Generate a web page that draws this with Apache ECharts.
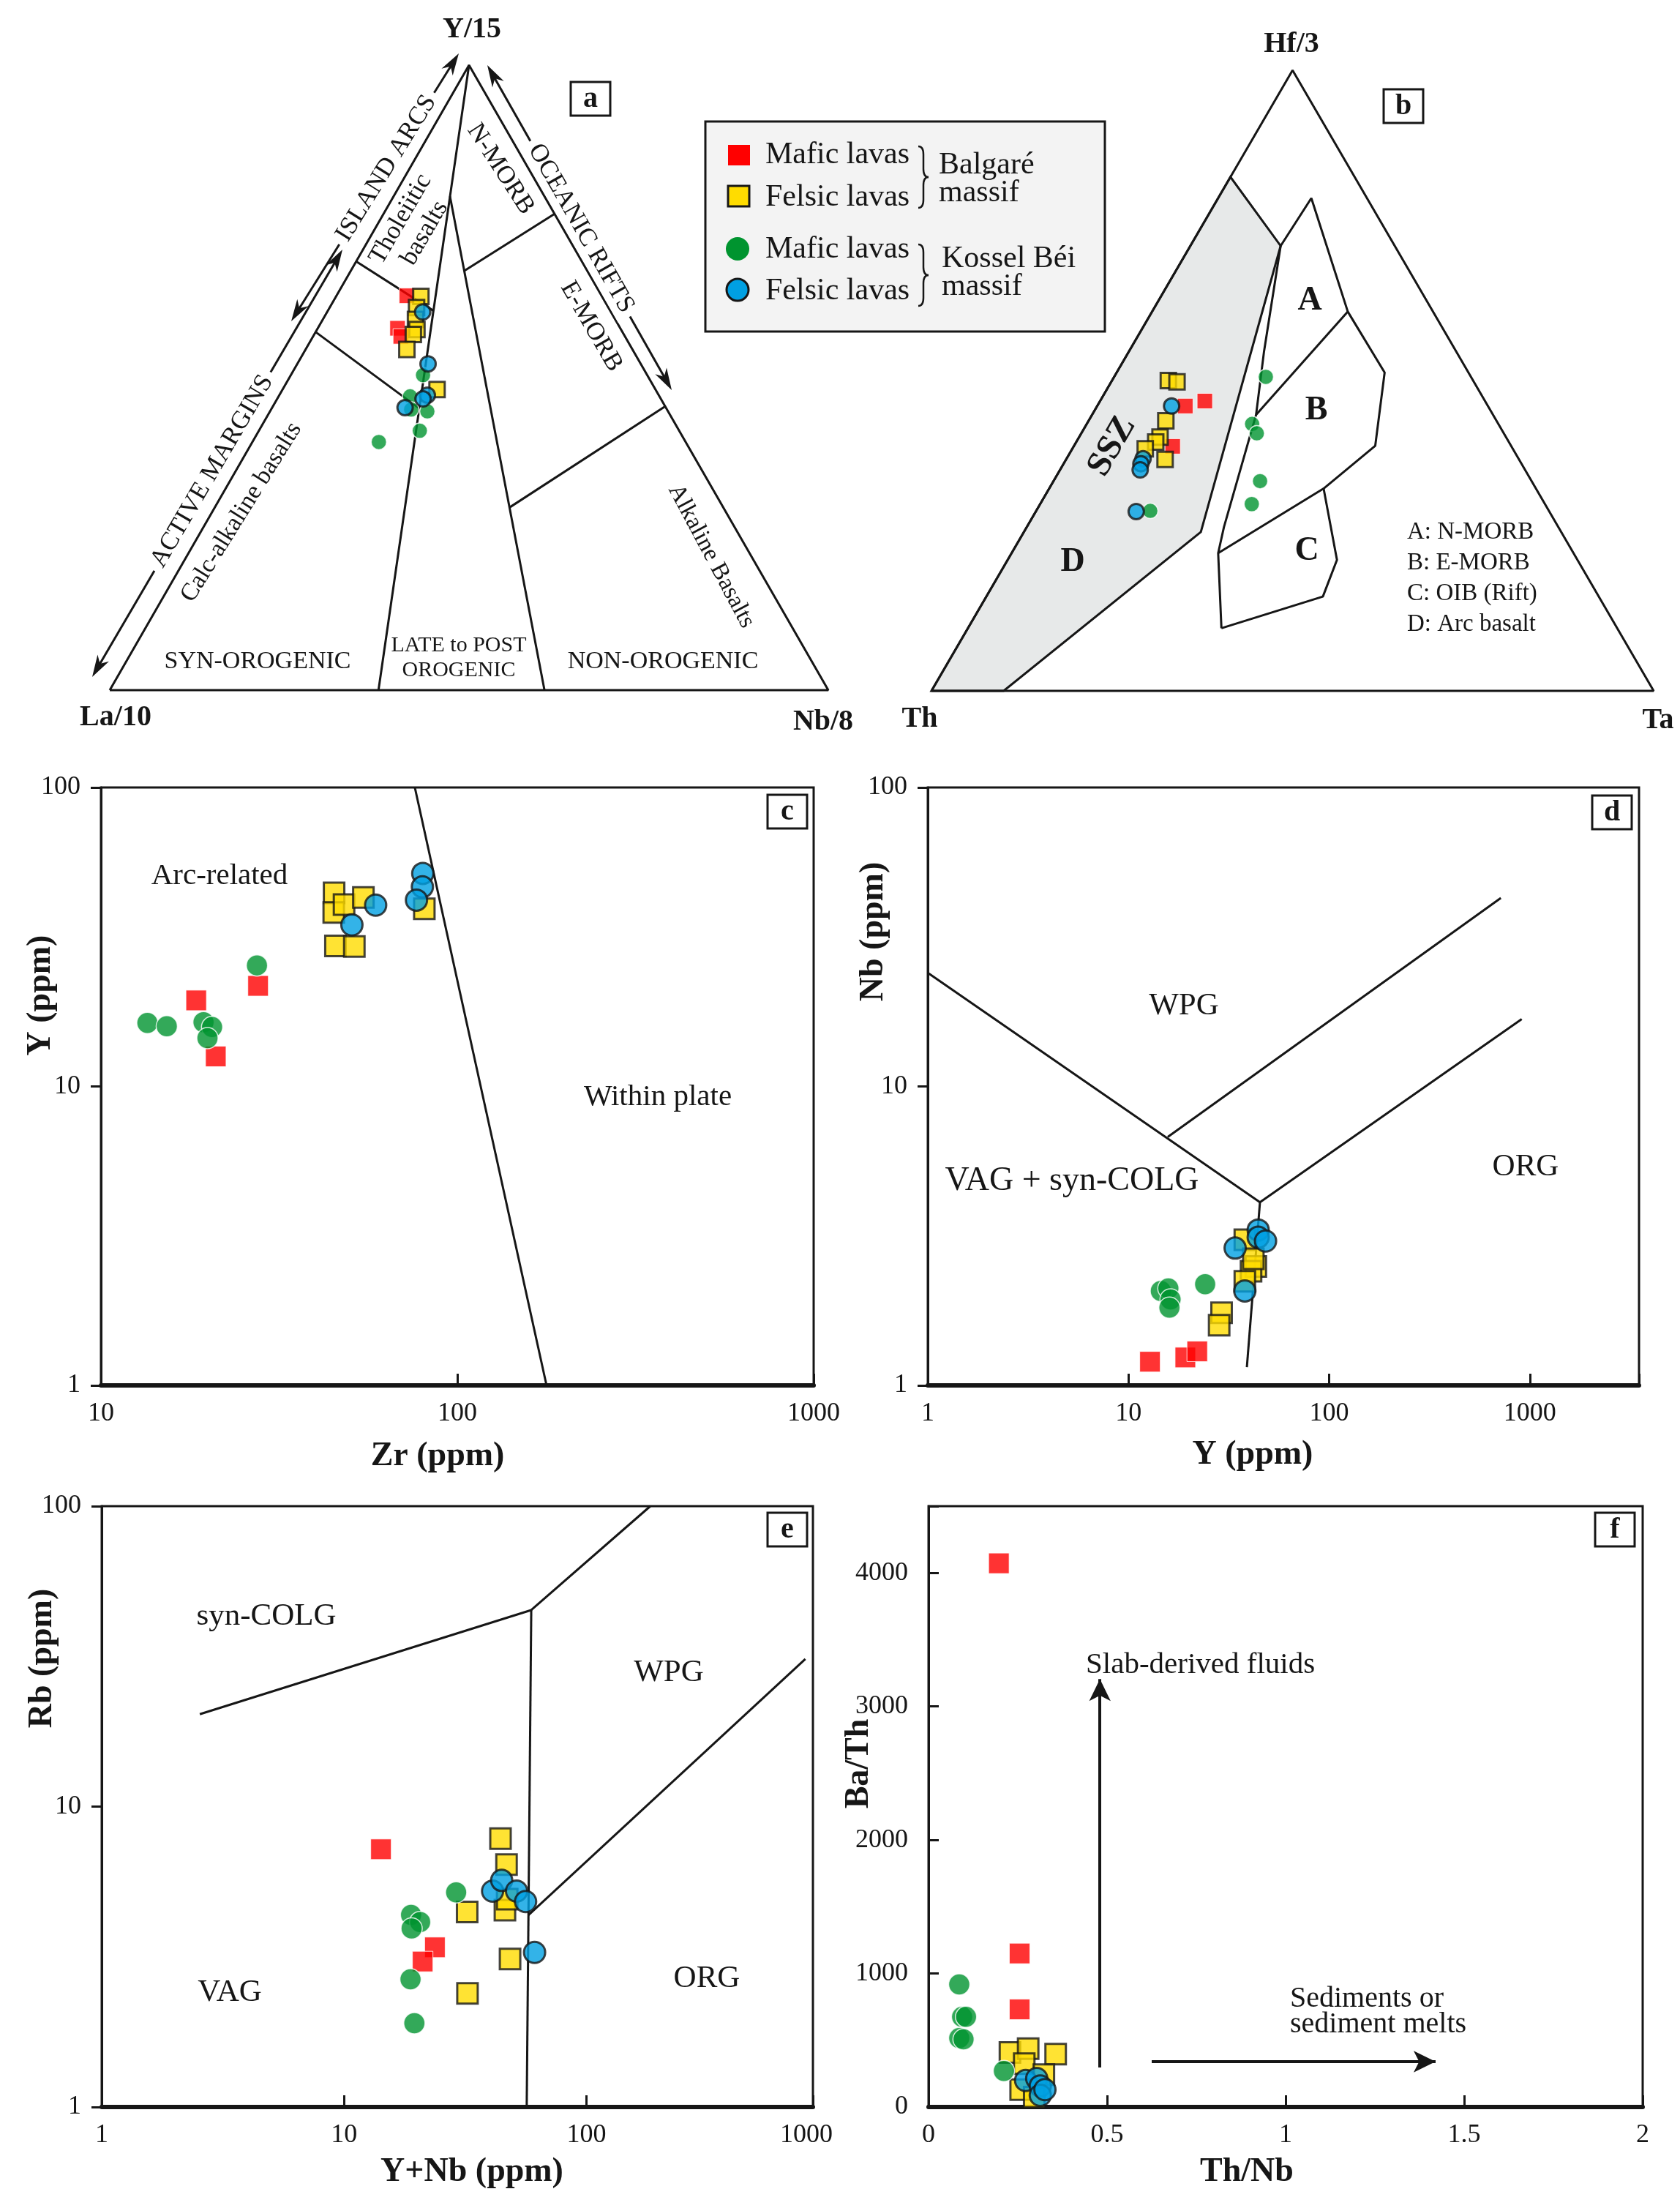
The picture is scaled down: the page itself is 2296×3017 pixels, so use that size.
<!DOCTYPE html>
<html>
<head>
<meta charset="utf-8">
<title>Geochemical discrimination diagrams</title>
<script src="https://cdn.jsdelivr.net/npm/echarts@6.0.0/dist/echarts.min.js"></script>
<style>
html,body{margin:0;padding:0;background:#fff;}
#chart{width:2296px;height:3017px;}
</style>
</head>
<body>
<div id="chart"></div>
<script>
// ===================== DATA =====================
// Panel a – ternary Y/15 (top) – La/10 (left) – Nb/8 (right); point = [Y/15, La/10, Nb/8]
const aMaficBalgare  = [[0.631,0.271,0.098],[0.579,0.310,0.111],[0.566,0.312,0.122]];
const aFelsicBalgare = [[0.630,0.252,0.118],[0.612,0.267,0.121],[0.593,0.278,0.129],[0.577,0.284,0.139],[0.569,0.293,0.138],[0.545,0.314,0.141],[0.481,0.304,0.215]];
const aMaficKossel   = [[0.504,0.312,0.184],[0.470,0.347,0.183],[0.446,0.335,0.219],[0.415,0.361,0.224],[0.397,0.427,0.176],[0.449,0.356,0.195]];
const aFelsicKossel  = [[0.605,0.262,0.133],[0.522,0.296,0.182],[0.472,0.322,0.206],[0.466,0.331,0.203],[0.452,0.363,0.185]];
const aFieldLines = [
  [[1,0,0],[0,0.626,0.374]],
  [[0.790,0.1315,0.0785],[0,0.395,0.605]],
  [[0.671,0.171,0.158],[0.762,0,0.238]],
  [[0.292,0.298,0.410],[0.454,0,0.546]],
  [[0.686,0.314,0],[0.607,0.246,0.147]],
  [[0.573,0.427,0],[0.451,0.344,0.205]]
];
// Panel b – ternary Hf/3 (top) – Th (left) – Ta (right); point = [Hf/3, Th, Ta]
const bMaficBalgare  = [[0.459,0.419,0.122],[0.467,0.388,0.145],[0.394,0.469,0.137]];
const bFelsicBalgare = [[0.500,0.422,0.078],[0.498,0.411,0.091],[0.435,0.458,0.107],[0.409,0.479,0.112],[0.401,0.489,0.110],[0.390,0.509,0.101],[0.373,0.490,0.137]];
const bMaficKossel   = [[0.290,0.552,0.158],[0.506,0.284,0.210],[0.430,0.341,0.229],[0.415,0.342,0.243],[0.338,0.376,0.286],[0.301,0.406,0.293]];
const bFelsicKossel  = [[0.459,0.438,0.103],[0.374,0.520,0.106],[0.366,0.527,0.107],[0.356,0.533,0.111],[0.289,0.572,0.139]];
const bSSZField = [[0,1,0],[0.828,0.172,0],[0.717,0.158,0.125],[0.256,0.499,0.245],[0,0.900,0.100],[0,1,0]];
const bFieldLines = [
  [[0.717,0.158,0.125],[0.547,0.266,0.187],[0.445,0.328,0.227],[0.264,0.463,0.273],[0.222,0.492,0.286],[0.101,0.548,0.351]],
  [[0.717,0.158,0.125],[0.794,0.077,0.129],[0.611,0.118,0.271],[0.513,0.116,0.371],[0.395,0.188,0.417],[0.326,0.294,0.380],[0.222,0.492,0.286]],
  [[0.445,0.328,0.227],[0.611,0.118,0.271]],
  [[0.326,0.294,0.380],[0.211,0.333,0.456],[0.152,0.382,0.466],[0.101,0.548,0.351]]
];
const triangle = [[0,1,0],[1,0,0],[0,0,1],[0,1,0]];

// Panel c – Zr (ppm) vs Y (ppm); point = [Zr, Y]
const cMaficBalgare  = [[18.5,19.4],[21.0,12.6],[27.6,21.7]];
const cFelsicBalgare = [[45.1,44.4],[45.0,38.2],[48.1,40.6],[54.5,42.9],[45.5,29.5],[51.4,29.4],[80.8,39.3]];
const cMaficKossel   = [[13.5,16.3],[15.3,15.9],[19.4,16.4],[20.5,15.8],[19.9,14.5],[27.4,25.4]];
const cFelsicKossel  = [[59.0,40.4],[50.6,34.7],[80.0,51.6],[79.8,46.5],[76.8,42.0]];
const cFieldLines = [[[76,100],[178,1]]];
const cXTicks = [10,100,1000];
const cYTicks = [1,10,100];

// Panel d – Y (ppm) vs Nb (ppm); point = [Y, Nb]
const dMaficBalgare  = [[12.8,1.20],[19.2,1.24],[22.0,1.30]];
const dFelsicBalgare = [[29.1,1.75],[28.3,1.59],[43.1,2.50],[40.8,2.41],[38.0,2.23],[38.0,3.07],[41.9,2.65]];
const dMaficKossel   = [[14.5,2.07],[15.8,2.11],[16.2,1.94],[16.0,1.82],[24.1,2.18]];
const dFelsicKossel  = [[44.3,3.31],[44.3,3.13],[48.2,3.04],[34.0,2.88],[38.0,2.07]];
const dFieldLines = [
  [[1,24],[45.2,4.1],[911,16.8]],
  [[15.7,6.78],[717,42.7]],
  [[45.2,4.1],[38.9,1.15]]
];
const dXTicks = [1,10,100,1000];
const dYTicks = [1,10,100];

// Panel e – Y+Nb (ppm) vs Rb (ppm); point = [Y+Nb, Rb]
const eMaficBalgare  = [[14.2,7.21],[23.7,3.40],[21.1,3.05]];
const eFelsicBalgare = [[44.2,7.82],[46.8,6.41],[32.2,4.46],[46.1,4.52],[47.1,4.92],[48.4,3.11],[32.3,2.39]];
const eMaficKossel   = [[29.0,5.18],[18.9,4.36],[20.6,4.13],[19.0,3.93],[18.8,2.66],[19.5,1.90]];
const eFelsicKossel  = [[41.0,5.23],[44.7,5.68],[51.5,5.23],[56.1,4.83],[61.1,3.27]];
const eFieldLines = [
  [[2.54,20.3],[59.2,45.1],[183.5,100]],
  [[59.2,45.1],[56.7,1]],
  [[57.6,4.35],[800,31.0]]
];
const eXTicks = [1,10,100,1000];
const eYTicks = [1,10,100];

// Panel f – Th/Nb vs Ba/Th; point = [Th/Nb, Ba/Th]
const fMaficBalgare  = [[0.197,4072],[0.255,1150],[0.255,731]];
const fFelsicBalgare = [[0.228,409],[0.279,437],[0.356,396],[0.268,325],[0.323,242],[0.258,130],[0.296,74]];
const fMaficKossel   = [[0.086,918],[0.094,675],[0.105,675],[0.086,516],[0.098,507],[0.211,270]];
const fFelsicKossel  = [[0.272,199],[0.303,214],[0.313,158],[0.313,88],[0.326,130]];
const fArrowSlab = [[0.48,296],[0.48,3205]];
const fArrowSediment = [[0.625,340],[1.42,340]];
const fXTicks = [0,0.5,1,1.5,2];
const fYTicks = [0,1000,2000,3000,4000];

// ===================== STYLE / LAYOUT =====================
const INK = '#161616';
const RED = '#ff0000', YEL = '#ffdc00', GRN = '#00942f', BLU = '#00a0e2';
const F = "'Liberation Serif','Times New Roman',serif";
const deg = d => d * Math.PI / 180;
const tern = p => [p[2] + p[0] / 2, p[0]];

const STY = {
  mb: {symbol: 'rect',   itemStyle: {color: RED, borderColor: '#ffffff', borderWidth: 1}},
  fb: {symbol: 'rect',   itemStyle: {color: YEL, borderColor: INK, borderWidth: 3}},
  mk: {symbol: 'circle', itemStyle: {color: GRN, borderColor: '#ffffff', borderWidth: 1.5}},
  fk: {symbol: 'circle', itemStyle: {color: BLU, borderColor: INK, borderWidth: 3}}
};
const NAMES = {mb: 'Mafic lavas (Balgaré)', fb: 'Felsic lavas (Balgaré)', mk: 'Mafic lavas (Kossel Béi)', fk: 'Felsic lavas (Kossel Béi)'};

const series = [];
function addLines(gi, lines, conv, width) {
  lines.forEach(l => series.push({
    type: 'line', xAxisIndex: gi, yAxisIndex: gi, data: l.map(conv),
    symbol: 'none', showSymbol: false, lineStyle: {color: INK, width: width || 3},
    clip: false, silent: true, z: 3, animation: false
  }));
}
function addScatter(gi, key, data, size, extra) {
  series.push(Object.assign({
    type: 'scatter', name: NAMES[key], xAxisIndex: gi, yAxisIndex: gi, data,
    symbol: STY[key].symbol, symbolSize: size, itemStyle: STY[key].itemStyle,
    clip: false, z: 5, animation: false
  }, extra || {}));
}
const id = p => p;

// Panel a (grid 0)
addLines(0, [triangle], tern, 3);
addLines(0, aFieldLines, tern, 3);
addScatter(0, 'mb', aMaficBalgare.map(tern), 21);
addScatter(0, 'fb', aFelsicBalgare.map(tern), 21);
addScatter(0, 'mk', aMaficKossel.map(tern), 21);
addScatter(0, 'fk', aFelsicKossel.map(tern), 21);

// Panel b (grid 1)
series.push({
  type: 'custom', xAxisIndex: 1, yAxisIndex: 1, data: [[0.5, 0.5]], silent: true, z: 1, clip: false, animation: false,
  renderItem: (params, api) => ({
    type: 'polygon',
    shape: {points: bSSZField.map(p => api.coord(tern(p)))},
    style: {fill: '#e7e9e9', stroke: INK, lineWidth: 3}
  })
});
addLines(1, [triangle], tern, 3);
addLines(1, bFieldLines, tern, 3);
addScatter(1, 'mb', bMaficBalgare.map(tern), 21);
addScatter(1, 'fb', bFelsicBalgare.map(tern), 21);
addScatter(1, 'mk', bMaficKossel.map(tern), 21);
addScatter(1, 'fk', bFelsicKossel.map(tern), 21);

// Panel c (grid 2)
addLines(2, cFieldLines, id, 3);
addScatter(2, 'mb', cMaficBalgare, 28);
addScatter(2, 'fb', cFelsicBalgare, 28);
addScatter(2, 'mk', cMaficKossel, 29);
addScatter(2, 'fk', cFelsicKossel, 29);

// Panel d (grid 3)
addLines(3, dFieldLines, id, 3);
addScatter(3, 'mb', dMaficBalgare, 28);
addScatter(3, 'fb', dFelsicBalgare, 28);
addScatter(3, 'mk', dMaficKossel, 29);
addScatter(3, 'fk', dFelsicKossel, 29);

// Panel e (grid 4)
addLines(4, eFieldLines, id, 3);
addScatter(4, 'mb', eMaficBalgare, 28);
addScatter(4, 'fb', eFelsicBalgare, 28);
addScatter(4, 'mk', eMaficKossel, 29);
addScatter(4, 'fk', eFelsicKossel, 29);

// Panel f (grid 5)
addScatter(5, 'mb', fMaficBalgare, 28, {
  markLine: {
    silent: true, animation: false, symbol: ['none', 'arrow'], symbolSize: [22, 30],
    lineStyle: {color: INK, width: 4, type: 'solid'}, label: {show: false},
    emphasis: {disabled: true},
    data: [
      [{coord: fArrowSlab[0]}, {coord: fArrowSlab[1]}],
      [{coord: fArrowSediment[0]}, {coord: fArrowSediment[1]}]
    ]
  }
});
addScatter(5, 'fb', fFelsicBalgare, 28);
addScatter(5, 'mk', fMaficKossel, 29);
addScatter(5, 'fk', fFelsicKossel, 29);

// ===================== AXES =====================
const grids = [
  {left: 150, top: 89, width: 982, height: 854},
  {left: 1273, top: 96, width: 987, height: 848},
  {left: 138, top: 1076, width: 974, height: 817},
  {left: 1268, top: 1076, width: 972, height: 817},
  {left: 139, top: 2058, width: 972, height: 821},
  {left: 1269, top: 2058, width: 976, height: 821}
].map((g, i) => Object.assign({
  containLabel: false, outerBoundsMode: 'none',
  show: i >= 2, borderColor: INK, borderWidth: 3, backgroundColor: 'transparent'
}, g));

function tickFmt(ticks) {
  return v => {
    const t = ticks.find(t => Math.abs(t - v) <= 1e-6 * Math.max(1, Math.abs(t)));
    return t === undefined ? '' : String(t);
  };
}
const lblStyle = {fontFamily: F, fontSize: 36, color: INK};
function xAx(gi, type, min, max, ticks, extra) {
  return Object.assign({
    gridIndex: gi, type, min, max, logBase: 10,
    axisLine: {show: true, onZero: false, lineStyle: {color: INK, width: 6}},
    axisTick: {show: true, inside: true, length: 16, lineStyle: {color: INK, width: 3}},
    axisLabel: Object.assign({margin: 21, formatter: tickFmt(ticks), showMinLabel: true, showMaxLabel: true}, lblStyle),
    splitLine: {show: false}, minorTick: {show: false}
  }, extra || {});
}
function yAx(gi, type, min, max, ticks, inside, extra) {
  return Object.assign({
    gridIndex: gi, type, min, max, logBase: 10,
    axisLine: {show: true, onZero: false, lineStyle: {color: INK, width: 3}},
    axisTick: {show: true, inside: !!inside, length: 14, lineStyle: {color: INK, width: 3}},
    axisLabel: Object.assign({margin: 28, formatter: tickFmt(ticks), showMinLabel: true, showMaxLabel: true}, lblStyle),
    splitLine: {show: false}, minorTick: {show: false}
  }, extra || {});
}
const hiddenAx = gi => ({gridIndex: gi, type: 'value', min: 0, max: 1, show: false});

const xAxis = [
  hiddenAx(0), hiddenAx(1),
  xAx(2, 'log', 10, 1000, cXTicks),
  xAx(3, 'log', 1, 3500, dXTicks),
  xAx(4, 'log', 1, 860, eXTicks),
  xAx(5, 'value', 0, 2, fXTicks, {interval: 0.5})
];
const yAxis = [
  hiddenAx(0), hiddenAx(1),
  yAx(2, 'log', 1, 100, cYTicks, false),
  yAx(3, 'log', 1, 100, dYTicks, false),
  yAx(4, 'log', 1, 100, eYTicks, false),
  yAx(5, 'value', 0, 4500, fYTicks, true, {interval: 1000})
];

// ===================== ANNOTATIONS =====================
function T(x, y, text, size, o) {
  o = o || {};
  const style = {
    text, font: (o.italic ? 'italic ' : '') + (o.bold ? 'bold ' : '') + size + 'px ' + F,
    fill: INK, align: o.align || 'center', verticalAlign: 'middle'
  };
  if (o.lh) style.lineHeight = o.lh;
  if (o.bg) { style.backgroundColor = '#ffffff'; style.padding = o.pad || [2, 8]; }
  return {type: 'text', x, y, rotation: o.rot || 0, silent: true, z: o.z || 60, style};
}
function arrow(x1, y1, x2, y2, both) {
  const dx = x2 - x1, dy = y2 - y1, L = Math.hypot(dx, dy), ux = dx / L, uy = dy / L;
  const hl = 30, hw = 9;
  const head = (tx, ty, sx, sy) => ({
    type: 'polygon', silent: true, z: 55,
    shape: {points: [[tx, ty], [tx - sx * hl - sy * hw, ty - sy * hl + sx * hw], [tx - sx * hl * 0.7, ty - sy * hl * 0.7], [tx - sx * hl + sy * hw, ty - sy * hl - sx * hw]]},
    style: {fill: INK}
  });
  const els = [{
    type: 'line', silent: true, z: 54,
    shape: {x1: x1 + ux * hl * 0.6, y1: y1 + uy * hl * 0.6, x2: x2 - ux * hl * 0.6, y2: y2 - uy * hl * 0.6},
    style: {stroke: INK, lineWidth: 3}
  }, head(x2, y2, ux, uy)];
  if (both) els.push(head(x1, y1, -ux, -uy));
  return els;
}
function labelBox(cx, cy, letter) {
  return [
    {type: 'rect', silent: true, z: 60, shape: {x: cx - 27, y: cy - 23, width: 54, height: 46}, style: {fill: '#ffffff', stroke: INK, lineWidth: 3}},
    T(cx, cy + 1, letter, 40, {bold: true, z: 61})
  ];
}
function brace(cx, top, bot) {
  const cy = (top + bot) / 2, w = 7, r = 11;
  const st = {stroke: INK, lineWidth: 2.5, fill: 'none'};
  const bz = (x1, y1, cx1, cy1, x2, y2) => ({type: 'bezierCurve', silent: true, z: 62, shape: {x1, y1, x2, y2, cpx1: cx1, cpy1: cy1}, style: st});
  const ln = (x1, y1, x2, y2) => ({type: 'line', silent: true, z: 62, shape: {x1, y1, x2, y2}, style: st});
  return [
    bz(cx - w, top, cx, top, cx, top + r), ln(cx, top + r, cx, cy - r), bz(cx, cy - r, cx, cy, cx + w, cy),
    bz(cx + w, cy, cx, cy, cx, cy + r), ln(cx, cy + r, cx, bot - r), bz(cx, bot - r, cx, bot, cx - w, bot)
  ];
}

const g = [];
// ---- panel a
g.push(T(645, 41, 'Y/15', 40, {bold: true}));
g.push(T(158, 981, 'La/10', 40, {bold: true}));
g.push(T(1125, 987, 'Nb/8', 40, {bold: true}));
g.push(...arrow(627, 73, 398, 439, true));
g.push(T(528, 230, 'ISLAND ARCS', 35, {rot: deg(58), bg: true}));
g.push(...arrow(468, 341, 126, 925, true));
g.push(T(290, 644, 'ACTIVE MARGINS', 35, {rot: deg(59.6), bg: true}));
g.push(...arrow(666, 89, 918, 533, true));
g.push(T(794, 312, 'OCEANIC RIFTS', 35, {rot: deg(-60.4), bg: true}));
g.push(T(564, 309, 'Tholeiitic\nbasalts', 35, {rot: deg(60), lh: 38}));
g.push(T(684, 231, 'N-MORB', 35, {rot: deg(-57)}));
g.push(T(808, 446, 'E-MORB', 35, {rot: deg(-60)}));
g.push(T(972, 760, 'Alkaline Basalts', 33, {rot: deg(-62)}));
g.push(T(330, 700, 'Calc-alkaline basalts', 34, {rot: deg(58)}));
g.push(T(352, 904, 'SYN-OROGENIC', 34));
g.push(T(627, 882, 'LATE to POST', 30));
g.push(T(627, 916, 'OROGENIC', 30));
g.push(T(906, 904, 'NON-OROGENIC', 34));
g.push(...labelBox(807, 135, 'a'));

// ---- legend
g.push({type: 'rect', silent: true, z: 58, shape: {x: 964, y: 166, width: 546, height: 287}, style: {fill: '#f3f3f3', stroke: INK, lineWidth: 3}});
g.push({type: 'rect', silent: true, z: 61, shape: {x: 995, y: 198, width: 30, height: 28}, style: {fill: RED}});
g.push({type: 'rect', silent: true, z: 61, shape: {x: 995, y: 254, width: 29, height: 28}, style: {fill: YEL, stroke: INK, lineWidth: 3}});
g.push({type: 'circle', silent: true, z: 61, shape: {cx: 1008, cy: 340, r: 16}, style: {fill: GRN}});
g.push({type: 'circle', silent: true, z: 61, shape: {cx: 1008, cy: 396, r: 15}, style: {fill: BLU, stroke: INK, lineWidth: 3}});
g.push(T(1046, 212, 'Mafic lavas', 42, {align: 'left', z: 61}));
g.push(T(1046, 270, 'Felsic lavas', 42, {align: 'left', z: 61}));
g.push(T(1046, 341, 'Mafic lavas', 42, {align: 'left', z: 61}));
g.push(T(1046, 398, 'Felsic lavas', 42, {align: 'left', z: 61}));
g.push(...brace(1262, 200, 284));
g.push(...brace(1262, 334, 418));
g.push(T(1283, 226, 'Balgaré', 42, {align: 'left', z: 61}));
g.push(T(1283, 264, 'massif', 42, {align: 'left', z: 61}));
g.push(T(1287, 354, 'Kossel Béi', 42, {align: 'left', z: 61}));
g.push(T(1287, 392, 'massif', 42, {align: 'left', z: 61}));

// ---- panel b
g.push(T(1765, 61, 'Hf/3', 40, {bold: true}));
g.push(T(1257, 983, 'Th', 40, {bold: true}));
g.push(T(2266, 985, 'Ta', 40, {bold: true}));
g.push(...labelBox(1918, 145, 'b'));
g.push(T(1790, 411, 'A', 46, {bold: true}));
g.push(T(1799, 561, 'B', 46, {bold: true}));
g.push(T(1786, 753, 'C', 46, {bold: true}));
g.push(T(1466, 768, 'D', 46, {bold: true}));
g.push(T(1520, 610, 'SSZ', 48, {bold: true, rot: deg(60)}));
g.push(T(1923, 727, 'A: N-MORB', 33, {align: 'left'}));
g.push(T(1923, 769, 'B: E-MORB', 33, {align: 'left'}));
g.push(T(1923, 811, 'C: OIB (Rift)', 33, {align: 'left'}));
g.push(T(1923, 853, 'D: Arc basalt', 33, {align: 'left'}));

// ---- panel c
g.push(...labelBox(1076, 1109, 'c'));
g.push(T(300, 1197, 'Arc-related', 41));
g.push(T(899, 1499, 'Within plate', 41));
g.push(T(56, 1360, 'Y (ppm)', 46, {bold: true, rot: deg(90)}));
g.push(T(598, 1990, 'Zr (ppm)', 46, {bold: true}));

// ---- panel d
g.push(...labelBox(2203, 1110, 'd'));
g.push(T(1618, 1375, 'WPG', 43));
g.push(T(1465, 1614, 'VAG + syn-COLG', 46));
g.push(T(2085, 1595, 'ORG', 43));
g.push(T(1194, 1273, 'Nb (ppm)', 46, {bold: true, rot: deg(90)}));
g.push(T(1712, 1988, 'Y (ppm)', 46, {bold: true}));

// ---- panel e
g.push(...labelBox(1076, 2090, 'e'));
g.push(T(364, 2209, 'syn-COLG', 43));
g.push(T(914, 2286, 'WPG', 43));
g.push(T(314, 2723, 'VAG', 43));
g.push(T(966, 2704, 'ORG', 43));
g.push(T(1102, 2918, '1000', 36));
g.push(T(58, 2266, 'Rb (ppm)', 46, {bold: true, rot: deg(90)}));
g.push(T(645, 2968, 'Y+Nb (ppm)', 46, {bold: true}));

// ---- panel f
g.push(...labelBox(2207, 2090, 'f'));
g.push(T(1484, 2275, 'Slab-derived fluids', 41, {align: 'left'}));
g.push(T(1763, 2731, 'Sediments or', 40, {align: 'left'}));
g.push(T(1763, 2766, 'sediment melts', 40, {align: 'left'}));
g.push(T(1174, 2410, 'Ba/Th', 46, {bold: true, rot: deg(90)}));
g.push(T(1704, 2968, 'Th/Nb', 46, {bold: true}));

// ===================== RENDER =====================
const chart = echarts.init(document.getElementById('chart'), null, {renderer: 'canvas', width: 2296, height: 3017});
chart.setOption({
  animation: false,
  backgroundColor: '#ffffff',
  textStyle: {fontFamily: F},
  tooltip: {show: false},
  grid: grids,
  xAxis,
  yAxis,
  series,
  graphic: {elements: g}
});
</script>
</body>
</html>
